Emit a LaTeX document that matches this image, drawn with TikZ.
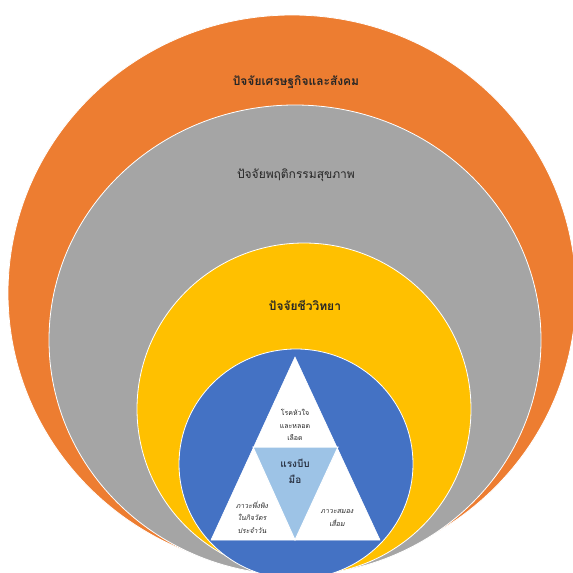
\documentclass[tikz,border=0pt]{standalone}
\usepackage{fontspec}
\newfontfamily\thai[Script=Thai]{Loma}
\newfontfamily\thaisl[Script=Thai,FakeSlant=0.2]{Loma}
\usetikzlibrary{positioning}
\definecolor{socio}{HTML}{ED7D31}
\definecolor{behav}{HTML}{A5A5A5}
\definecolor{bio}{HTML}{FFC000}
\definecolor{core}{HTML}{4472C4}
\definecolor{grip}{HTML}{9DC3E6}
\definecolor{ink}{HTML}{262626}

\begin{document}
\begin{tikzpicture}[x=1pt, y=-1pt,
  ring/.style={draw=white, line width=0.8pt},
  title/.style={font=\thai\bfseries\fontsize{12}{14}\selectfont, text=ink},
  small/.style={align=center, text=ink, font=\thai\fontsize{7}{12.5}\selectfont},
  smallsl/.style={small, font=\thaisl\fontsize{7}{12.5}\selectfont}]
  \useasboundingbox (0,0) rectangle (573,573);
  \clip (0,0) rectangle (573,573);
  \fill[white] (0,0) rectangle (573,573);
  % nested rings
  \filldraw[ring, fill=socio] (292,293) ellipse [x radius=284, y radius=278];
  \filldraw[ring, fill=behav] (295,340) ellipse [x radius=246, y radius=235];
  \filldraw[ring, fill=bio] (304,409) ellipse [x radius=167, y radius=166];
  \filldraw[ring, fill=core] (296,464) ellipse [x radius=117, y radius=115];
  % triangle in the middle
  \filldraw[white, line width=0.6pt] (295,357) -- (380,540) -- (211,540) -- cycle;
  \filldraw[fill=grip, draw=white, line width=1pt] (253,447) -- (338,447) -- (295,540) -- cycle;
  \node[title] (socio) at (296,82) {ปัจจัยเศรษฐกิจและสังคม};
  \node[title, font=\thai\fontsize{12}{14}\selectfont] (behav) at (296,175) {ปัจจัยพฤติกรรมสุขภาพ};
  \node[title] (bio) at (305,305) {ปัจจัยชีววิทยา};
  \node[small] (heart) at (295,425) {โรคหัวใจ\\และหลอด\\เลือด};
  \node[small, font=\thai\bfseries\fontsize{10}{16}\selectfont, text=ink!80!core] (grip) at (295,471) {แรงบีบ\\มือ};
  \node[smallsl] (adl) at (252,517) {ภาวะพึ่งพิง\\ในกิจวัตร\\ประจำวัน};
  \node[smallsl] (dem) at (337,518) {ภาวะสมอง\\เสื่อม};
\end{tikzpicture}
\end{document}
